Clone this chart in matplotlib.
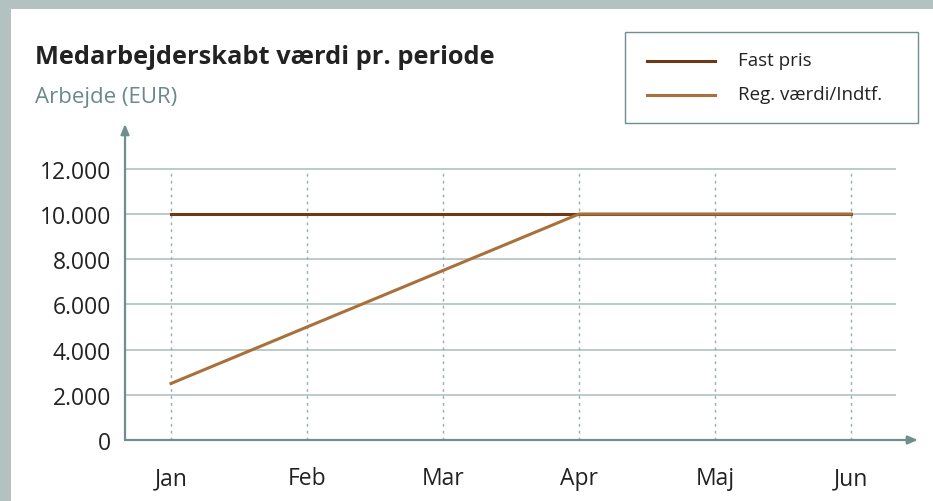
import matplotlib
matplotlib.use("Agg")
import matplotlib.pyplot as plt
from matplotlib.patches import Rectangle
from matplotlib.lines import Line2D

# Data
maaneder = ["Jan", "Feb", "Mar", "Apr", "Maj", "Jun"]
fast_pris = [10000, 10000, 10000, 10000, 10000, 10000]
reg_vaerdi = [2500, 5000, 7500, 10000, 10000, 10000]
y_ticks = [0, 2000, 4000, 6000, 8000, 10000, 12000]

COR_FAST = "#6b3a17"
COR_REG = "#a8703a"
COR_AKSE = "#6f8e8e"
COR_GRID = "#a9bcbc"
COR_TEKST = "#222222"

plt.rcParams["font.family"] = ["Open Sans", "DejaVu Sans"]

W, H = 933, 502
fig = plt.figure(figsize=(W / 100, H / 100), dpi=100)
fig.patch.set_facecolor("#b3c1c1")
fig.patches.append(Rectangle((11 / W, 0), 1, 1 - 10 / H, transform=fig.transFigure,
                             facecolor="white", edgecolor="none", zorder=-10))


def px(x, y):
    return x / W, 1 - y / H


ax = fig.add_axes([125 / W, 1 - 441 / H, (918 - 125) / W, (441 - 125) / H])
ax.set_facecolor("none")
x = list(range(len(maaneder)))
x0, dx = 171, 136
ax.set_xlim((125 - x0) / dx, (918 - x0) / dx)
y_per_px = 2000 / 45.2
ax.set_ylim(0, (441 - 125) * y_per_px)
for s in ax.spines.values():
    s.set_visible(False)

# gitter
xmax_grid = (896 - x0) / dx
ax.hlines(y_ticks[1:], ax.get_xlim()[0], xmax_grid, color=COR_GRID, lw=1.1, zorder=1)
ax.vlines(x, 0, 12000, color="#98adad", lw=1.0, linestyles=(0, (2, 3)), zorder=1)

# akser med pile
ax.annotate("", xy=(0, 1), xytext=(0, 0), xycoords="axes fraction",
            arrowprops=dict(arrowstyle="-|>,head_length=0.6,head_width=0.25",
                            color=COR_AKSE, lw=1.6, shrinkA=0, shrinkB=0))
ax.annotate("", xy=(1, 0), xytext=(0, 0), xycoords="axes fraction",
            arrowprops=dict(arrowstyle="-|>,head_length=0.6,head_width=0.25",
                            color=COR_AKSE, lw=1.6, shrinkA=0, shrinkB=0))

ax.plot(x, fast_pris, color=COR_FAST, lw=2.2, zorder=3)
ax.plot(x, reg_vaerdi, color=COR_REG, lw=2.2, zorder=4)

ax.set_xticks(x)
ax.set_xticklabels(maaneder)
ax.set_yticks(y_ticks)
ax.set_yticklabels([f"{v:,}".replace(",", ".") for v in y_ticks])
ax.tick_params(length=0, labelsize=16.5, colors=COR_TEKST)
ax.tick_params(axis="x", pad=19)
ax.tick_params(axis="y", pad=10)

# titel
fig.text(*px(35, 58), "Medarbejderskabt værdi pr. periode", fontsize=18.3,
         fontweight="bold", color=COR_TEKST, va="center", ha="left")
fig.text(*px(35, 97), "Arbejde (EUR)", fontsize=16, color="#6a8a8a",
         va="center", ha="left")

# forklaring
fig.patches.append(Rectangle(px(625, 124), (918 - 625) / W, (124 - 33) / H,
                             transform=fig.transFigure, facecolor="white",
                             edgecolor=COR_AKSE, lw=1.0, zorder=5))
for yy, farve, navn in [(62, COR_FAST, "Fast pris"), (96, COR_REG, "Reg. værdi/Indtf.")]:
    fig.lines.append(Line2D([647 / W, 715 / W], [1 - yy / H] * 2, transform=fig.transFigure,
                            color=farve, lw=2.2, zorder=6))
    fig.text(*px(738, yy - 1), navn, fontsize=13.5, color=COR_TEKST, va="center",
             ha="left", zorder=6)

fig.savefig("out.png", dpi=100)
